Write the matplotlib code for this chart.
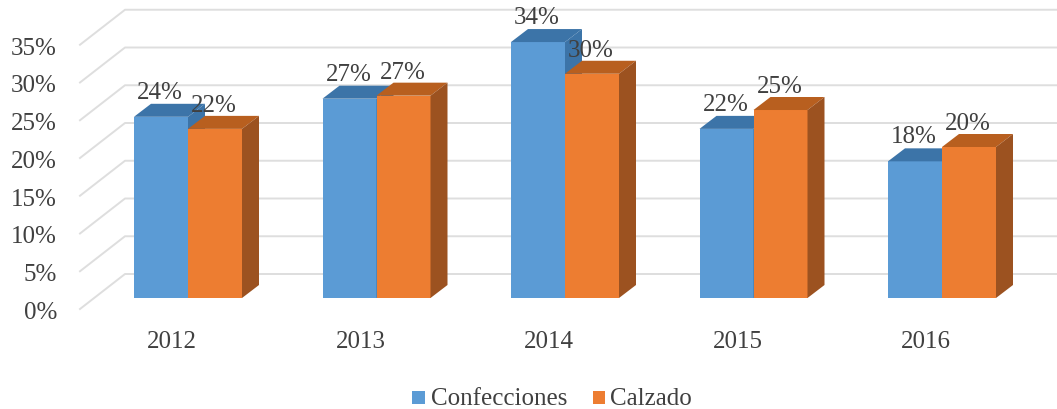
import matplotlib
matplotlib.use('Agg')
import matplotlib.pyplot as plt
from matplotlib.patches import Polygon, Rectangle

years = ['2012', '2013', '2014', '2015', '2016']
# printed labels
confecciones = [24, 27, 34, 22, 18]
calzado = [22, 27, 30, 25, 20]
# bar heights
height_conf = [24.0, 26.4, 33.9, 22.4, 18.1]
height_calz = [22.4, 26.8, 29.7, 24.9, 20.0]
yticks = [0, 5, 10, 15, 20, 25, 30, 35]

BLUE, BLUE_TOP = '#5b9bd5', '#3c74a8'
ORANGE, ORANGE_TOP, ORANGE_SIDE = '#ed7d31', '#b85f1f', '#9c5220'
TEXT = '#404040'

plt.rcParams['font.family'] = ['Liberation Serif', 'DejaVu Serif']

fig = plt.figure(figsize=(10.57, 4.10), dpi=100)
ax = fig.add_axes([0, 0, 1, 1])
ax.set_xlim(0, 1057)
ax.set_ylim(410, 0)
ax.axis('off')

# pixel scale of the flat front plane
Y0, PER = 299, 7.55
DX, DY = 17, 13

def ypos(v):
    return Y0 - v * PER

for t in yticks:
    y = ypos(t)
    ax.plot([80, 125, 1057], [y + 11, y - 24, y - 24], color='#dedede', lw=1.4, zorder=1)
    ax.text(57, y + 14, f'{t}%', ha='right', va='center', fontsize=18, color=TEXT)

def bar(x, w, v, front, top, side):
    y = ypos(v)
    ax.add_patch(Rectangle((x, y), w, Y0 - y, fc=front, ec='none', zorder=3))
    ax.add_patch(Polygon([(x, y), (x + DX, y - DY), (x + w + DX, y - DY), (x + w, y)], fc=top, ec='none', zorder=3))
    ax.add_patch(Polygon([(x + w, y), (x + w + DX, y - DY), (x + w + DX, Y0 - DY), (x + w, Y0)], fc=side, ec='none', zorder=3))

for i, year in enumerate(years):
    x = 134 + i * 188.5
    bar(x, 54, height_conf[i], BLUE, BLUE_TOP, BLUE_TOP)
    bar(x + 54, 54, height_calz[i], ORANGE, ORANGE_TOP, ORANGE_SIDE)
    ax.text(x + 26, ypos(height_conf[i]) - 25, f'{confecciones[i]}%', ha='center', va='center', fontsize=18, color=TEXT, zorder=5)
    ax.text(x + 80, ypos(height_calz[i]) - 24, f'{calzado[i]}%', ha='center', va='center', fontsize=18, color=TEXT, zorder=5)
    ax.text(x + 38, 342, year, ha='center', va='center', fontsize=18, color=TEXT)

ax.add_patch(Rectangle((412, 392), 13, 13, fc=BLUE, ec='none'))
ax.text(431, 405, 'Confecciones', ha='left', va='baseline', fontsize=18, color=TEXT)
ax.add_patch(Rectangle((593, 392), 12, 13, fc=ORANGE, ec='none'))
ax.text(610, 405, 'Calzado', ha='left', va='baseline', fontsize=18, color=TEXT)

fig.savefig('out.png', dpi=100)
